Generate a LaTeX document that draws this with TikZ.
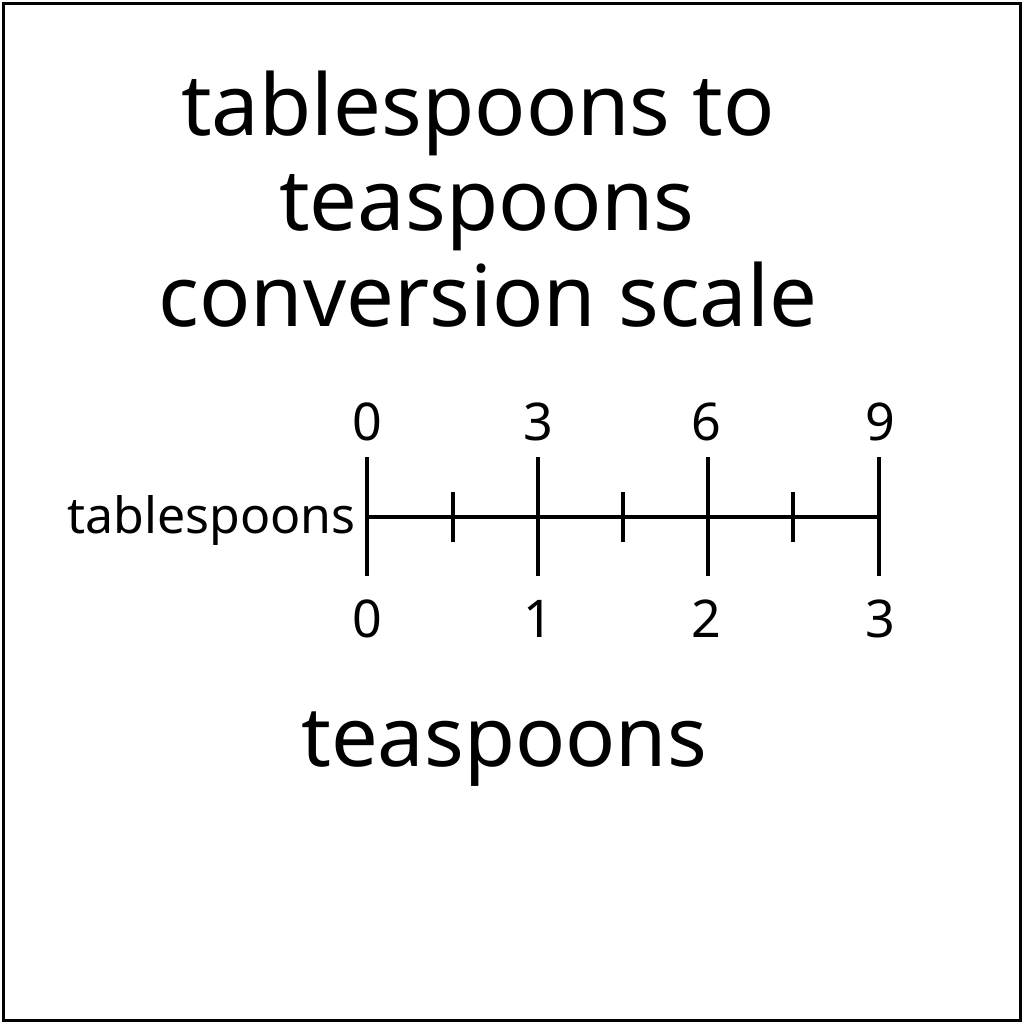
\documentclass[tikz,border=0pt]{standalone}
\usepackage{fontspec}
\setmainfont{Noto Sans}
\begin{document}
\begin{tikzpicture}[x=1pt,y=-1pt,
  big/.style={inner sep=0pt,anchor=base,font=\fontsize{85}{85}\selectfont},
  small/.style={inner sep=0pt,anchor=base,font=\fontsize{52}{52}\selectfont},
  axis/.style={line width=3.4pt},
  tick/.style={line width=3.2pt}]
\useasboundingbox (0,0) rectangle (1024,1024);
\draw[line width=3pt] (3.5,3.5) rectangle (1020.5,1020.5);
% title
\node[big] (t1) at (478,136) {tablespoons to};
\node[big] (t2) at (487,231) {teaspoons};
\node[big] (t3) at (488,326) {conversion scale};
% axis coordinates
\coordinate (a0) at (367,517);
\coordinate (a1) at (538,517);
\coordinate (a2) at (708,517);
\coordinate (a3) at (879,517);
\draw[axis] (a0) -- (a3);
\foreach \p in {a0,a1,a2,a3}{
  \draw[tick] ([yshift=-59pt]\p) -- ([yshift=60pt]\p);
}
\coordinate (m1) at (453,517);
\coordinate (m2) at (623,517);
\coordinate (m3) at (793,517);
\foreach \p in {m1,m2,m3}{
  \draw[tick] ([yshift=-25pt]\p) -- ([yshift=25pt]\p);
}
% labels
\node[small] (u0) at (367,440) {0};
\node[small] (u1) at (538,440) {3};
\node[small] (u2) at (706,440) {6};
\node[small] (u3) at (880,440) {9};
\node[small] (d0) at (367,637) {0};
\node[small] (d1) at (538,637) {1};
\node[small] (d2) at (706,637) {2};
\node[small] (d3) at (880,637) {3};
\node[inner sep=0pt,anchor=base east,font=\fontsize{50}{50}\selectfont] (tb) at (356,533) {tablespoons};
\node[big,font=\fontsize{83}{83}\selectfont] (ts) at (504,766) {teaspoons};
\end{tikzpicture}
\end{document}
